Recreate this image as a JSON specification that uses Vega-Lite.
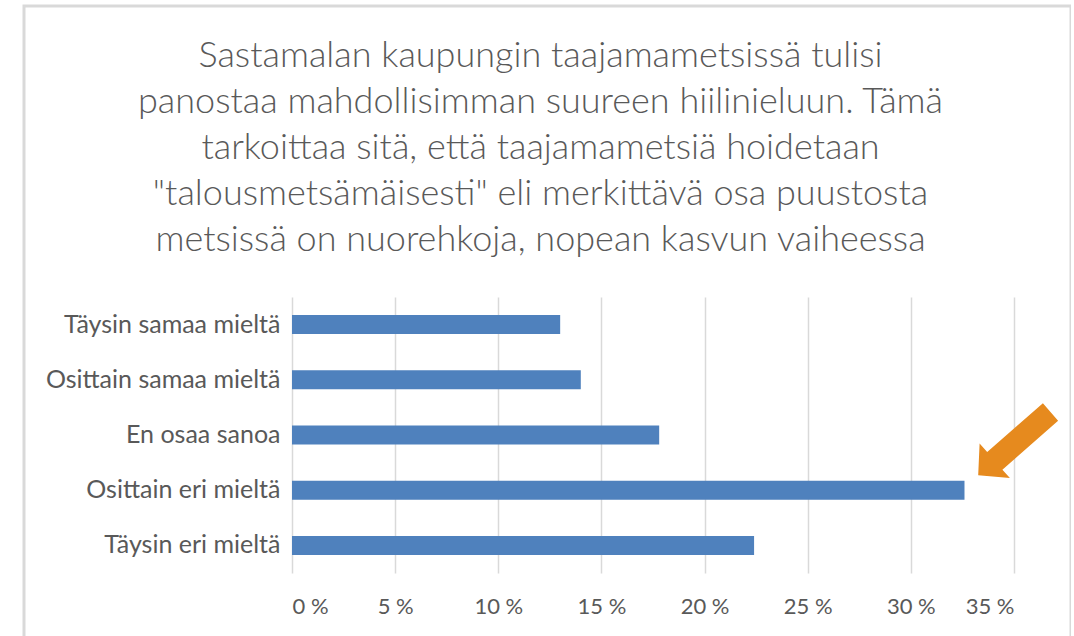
{
  "$schema": "https://vega.github.io/schema/vega-lite/v6.json",
  "autosize": "none",
  "width": 1047,
  "height": 640,
  "padding": {"left": 24, "top": 6, "right": 0, "bottom": 0},
  "background": "white",
  "title": {
    "text": [
      "Sastamalan kaupungin taajamametsissä tulisi",
      "panostaa mahdollisimman suureen hiilinieluun. Tämä",
      "tarkoittaa sitä, että taajamametsiä hoidetaan",
      "\"talousmetsämäisesti\" eli merkittävä osa puustosta",
      "metsissä on nuorehkoja, nopean kasvun vaiheessa"
    ],
    "font": "Lato",
    "fontSize": 36,
    "fontWeight": 300,
    "color": "#595959",
    "lineHeight": 46,
    "anchor": "middle",
    "frame": "group",
    "offset": -253,
    "dx": -7
  },
  "config": {
    "view": {"stroke": "#D9D9D9", "strokeWidth": 3},
    "font": "Lato"
  },
  "layer": [
    {
      "data": {
        "values": [
          {"vastaus": "Täysin samaa mieltä", "osuus": 0.130},
          {"vastaus": "Osittain samaa mieltä", "osuus": 0.140},
          {"vastaus": "En osaa sanoa", "osuus": 0.178},
          {"vastaus": "Osittain eri mieltä", "osuus": 0.326},
          {"vastaus": "Täysin eri mieltä", "osuus": 0.224}
        ]
      },
      "mark": {"type": "bar", "color": "#4F81BD"},
      "encoding": {
        "y": {
          "field": "vastaus",
          "type": "nominal",
          "scale": {
            "domain": ["Täysin samaa mieltä", "Osittain samaa mieltä", "En osaa sanoa", "Osittain eri mieltä", "Täysin eri mieltä"],
            "range": [291, 567],
            "paddingInner": 0.655,
            "paddingOuter": 0.3275
          },
          "axis": {
            "orient": "left",
            "offset": -268,
            "title": null,
            "domain": false,
            "ticks": false,
            "grid": false,
            "labelPadding": 12,
            "labelLimit": 400,
            "labelFont": "Lato",
            "labelFontSize": 25,
            "labelColor": "#595959"
          }
        },
        "x": {
          "field": "osuus",
          "type": "quantitative",
          "scale": {"domain": [0, 0.35], "range": [268, 990], "nice": false, "zero": true},
          "axis": {
            "orient": "top",
            "offset": -612,
            "title": null,
            "values": [0, 0.05, 0.1, 0.15, 0.2, 0.25, 0.3, 0.35],
            "labelExpr": "format(datum.value * 100, 'd') + ' %'",
            "domain": false,
            "ticks": false,
            "labelPadding": 0,
            "grid": true,
            "gridColor": "#D9D9D9",
            "gridWidth": 1.5,
            "labelFont": "Lato",
            "labelFontSize": 22,
            "labelColor": "#595959"
          }
        }
      }
    },
    {
      "data": {"values": [{"vastaus": "En osaa sanoa", "osuus": 0.35}]},
      "mark": {
        "type": "point",
        "shape": "M0.289,-0.317 L-0.268,0.170 L-0.344,0.084 L-0.358,0.402 L-0.041,0.430 L-0.116,0.347 L0.441,-0.143 Z",
        "size": 40000,
        "filled": true,
        "color": "#E68A1E",
        "opacity": 1,
        "strokeWidth": 0
      },
      "encoding": {
        "x": {"field": "osuus", "type": "quantitative"},
        "y": {"field": "vastaus", "type": "nominal"}
      }
    }
  ]
}
